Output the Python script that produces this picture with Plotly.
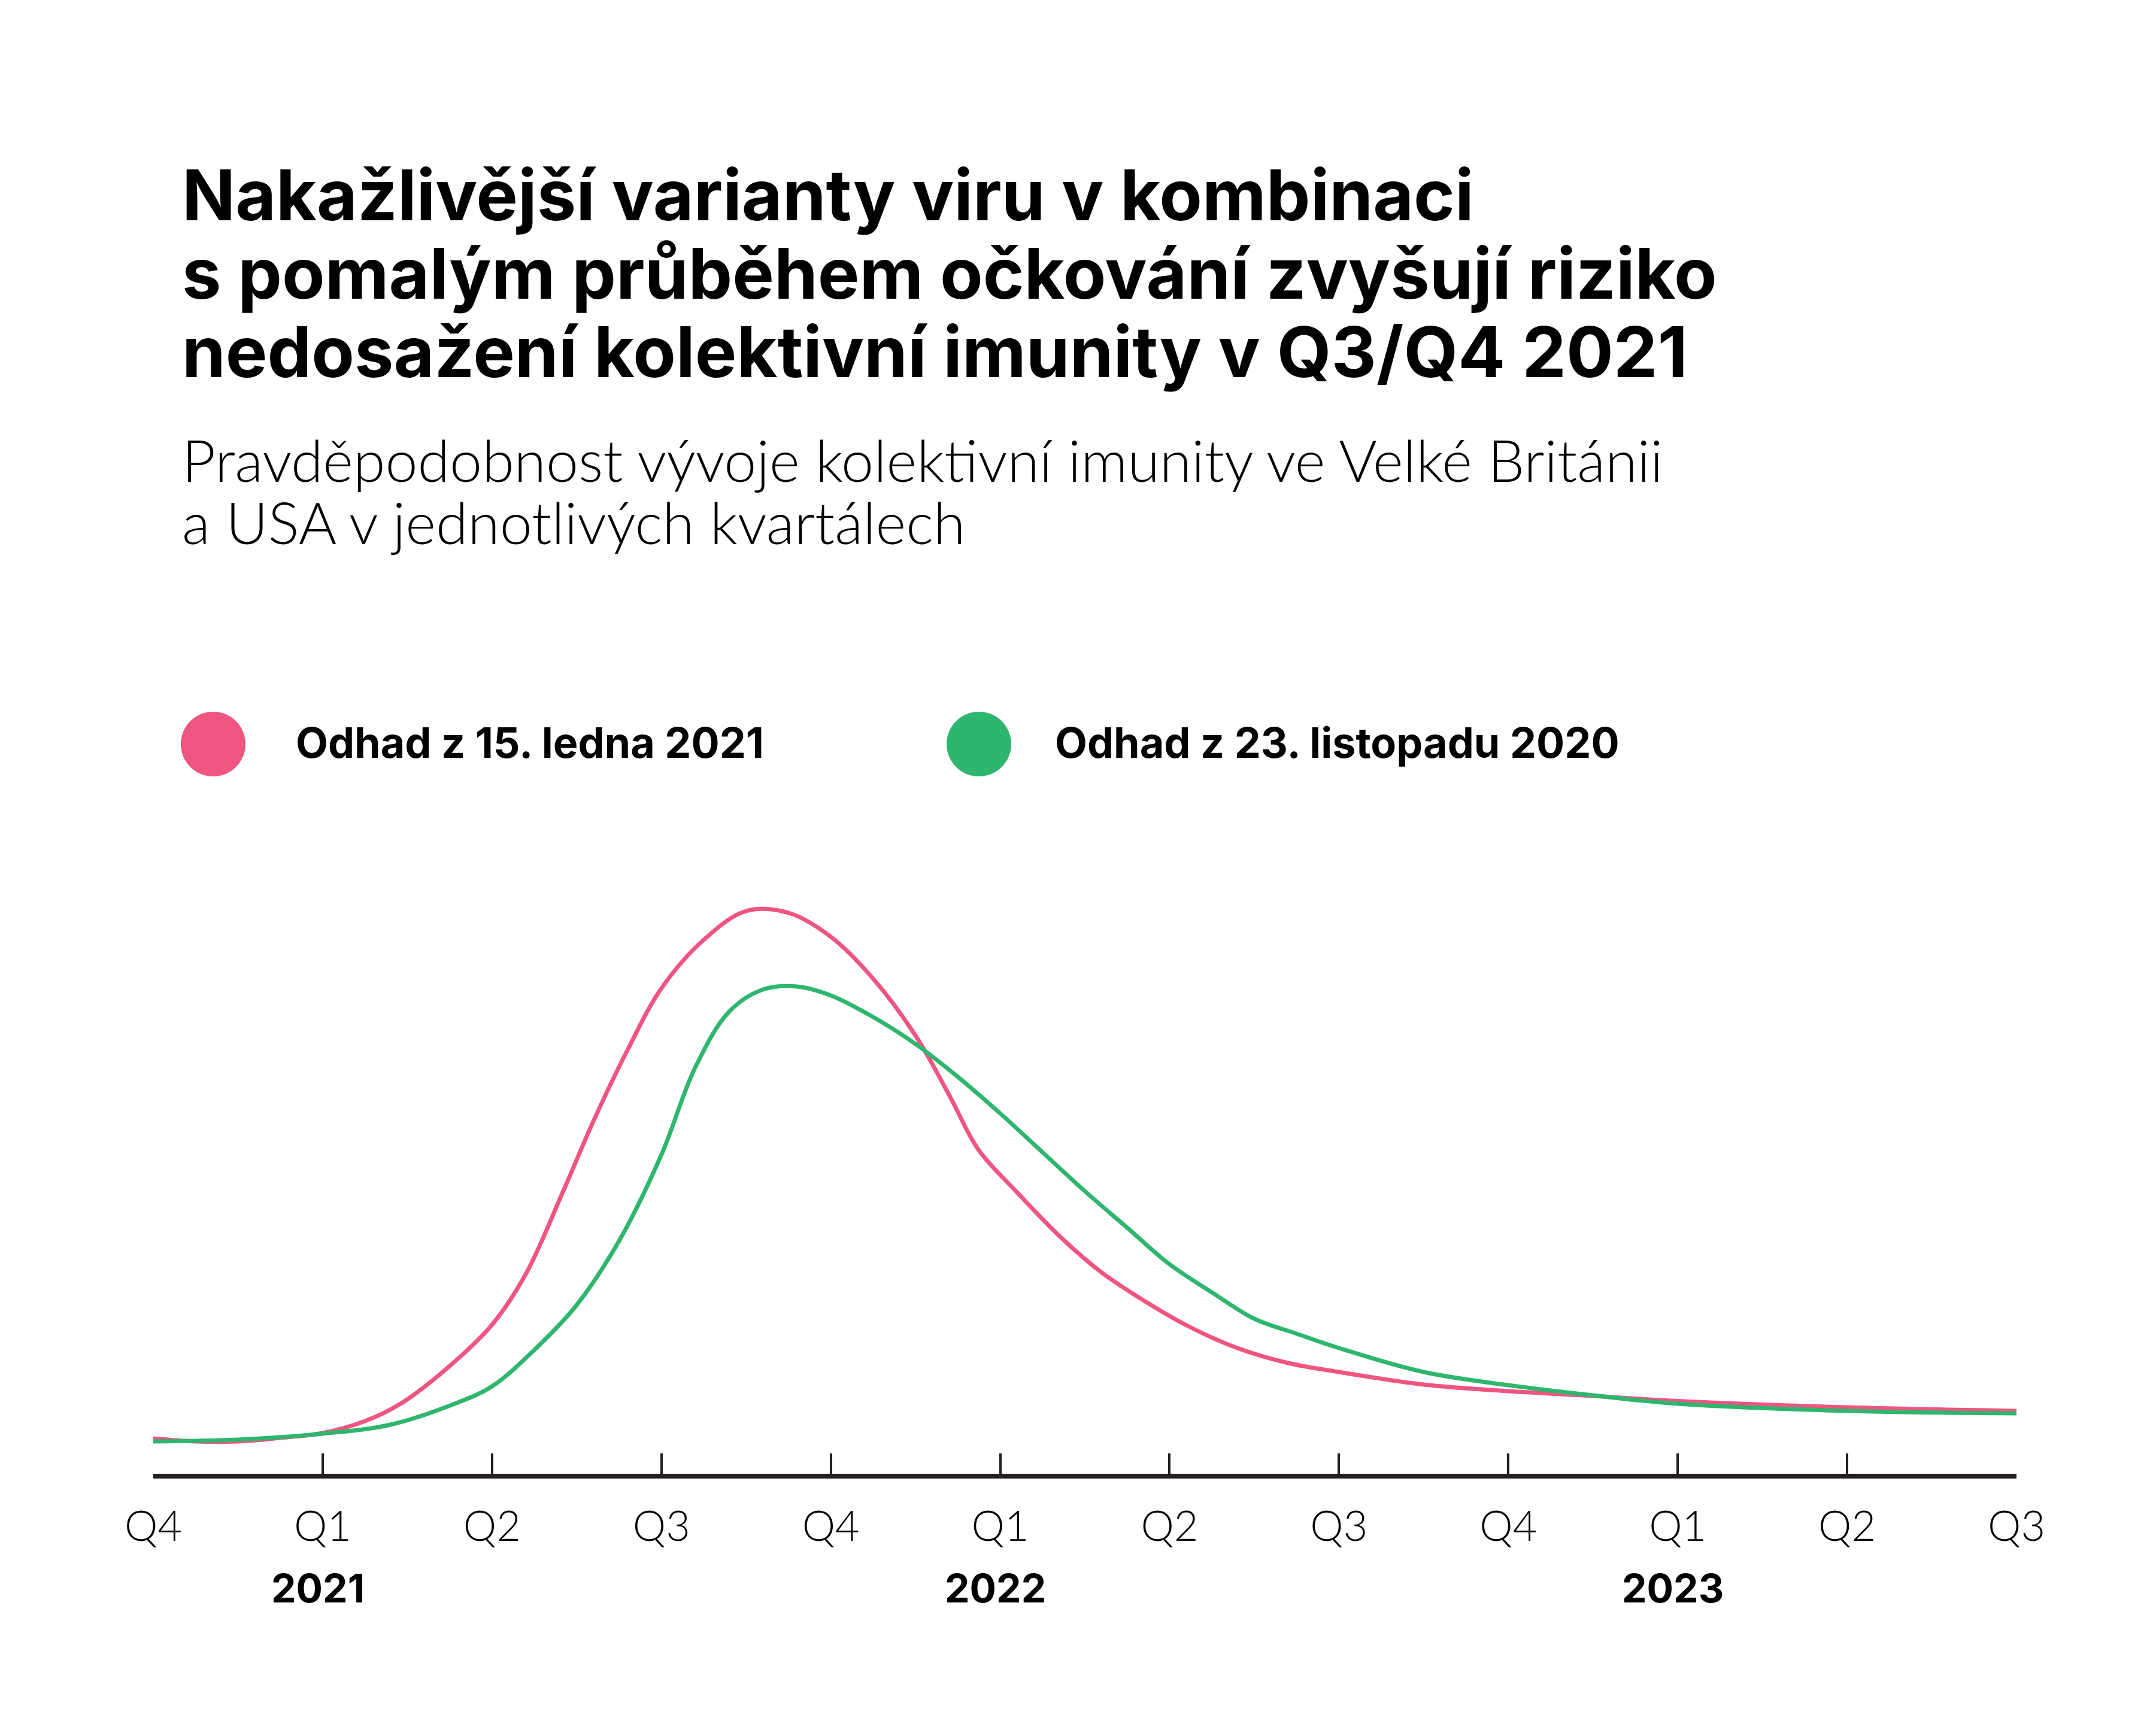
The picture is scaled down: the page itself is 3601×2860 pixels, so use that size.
import plotly.graph_objects as go

# ---- data (quarter index from Q4 2020 = 0) ----
red_q = [0, 0.25, 0.5, 0.75, 1.0, 1.25, 1.46, 1.75, 2.0, 2.2, 2.42, 2.6, 2.8, 3.0, 3.25, 3.5,
         3.75, 4.0, 4.25, 4.5, 4.7, 4.87, 5.1, 5.35, 5.6, 5.85, 6.1, 6.4, 6.7, 7.0, 7.5, 8.0,
         8.5, 9.0, 10.0, 11.0]
red_v = [5.5, 5.0, 5.0, 5.6, 6.4, 8.4, 11.3, 17.6, 24.5, 33.0, 46.8, 58.6, 70.4, 80.7, 88.8, 93.6,
         93.3, 89.3, 82.3, 72.8, 62.8, 53.8, 46.6, 39.3, 33.2, 28.5, 24.4, 20.6, 18.1, 16.6, 14.5,
         13.4, 12.6, 11.75, 10.7, 10.1]

green_q = [0, 0.5, 1.0, 1.4, 1.78, 2.0, 2.25, 2.5, 2.75, 3.0, 3.2, 3.4, 3.6, 3.8, 4.0, 4.25,
           4.5, 4.75, 5.0, 5.25, 5.5, 5.75, 6.0, 6.25, 6.5, 6.75, 7.0, 7.5, 8.0, 8.5, 9.0, 10.0,
           11.0]
green_v = [5.0, 5.3, 6.3, 7.8, 11.3, 14.2, 20.3, 27.8, 38.5, 52.9, 67.5, 76.8, 80.5, 81.0, 79.5,
           75.9, 71.4, 65.9, 59.8, 53.3, 46.8, 40.7, 34.6, 29.9, 25.5, 23.0, 20.6, 16.6, 14.4,
           12.7, 11.3, 10.1, 9.7]

tick_vals = list(range(12))
tick_text = ["Q4", "Q1", "Q2", "Q3", "Q4", "Q1", "Q2", "Q3", "Q4", "Q1", "Q2", "Q3"]
year_pos = [1, 5, 9]
year_text = ["2021", "2022", "2023"]

series_names = ["Odhad z 15. ledna 2021", "Odhad z 23. listopadu 2020"]
title_lines = ["Nakažlivější varianty viru v kombinaci",
               "s pomalým průběhem očkování zvyšují riziko",
               "nedosažení kolektivní imunity v Q3/Q4 2021"]
subtitle_lines = ["Pravděpodobnost vývoje kolektivní imunity ve Velké Británii",
                  "a USA v jednotlivých kvartálech"]

RED = "#EF5581"
GREEN = "#2FB66E"
DARK = "#231F20"

W, Hh = 3601, 2860
OFF = 8  # page body margin
L, R, T, B = 248, 241, 1392, 406
PW, PH = W - L - R, Hh - T - B


def px(x):
    return (x - OFF - L) / PW


def py(y):
    return (Hh - B - (y - OFF)) / PH


fig = go.Figure()
fig.add_trace(go.Scatter(x=red_q, y=red_v, mode="lines", name=series_names[0],
                         line=dict(color=RED, width=7, shape="spline", smoothing=1.0)))
fig.add_trace(go.Scatter(x=green_q, y=green_v, mode="lines", name=series_names[1],
                         line=dict(color=GREEN, width=7, shape="spline", smoothing=1.0)))

ann = []
title_font = dict(family="Inter", size=117, color="#000000", weight="bold")
for i, t in enumerate(title_lines):
    ann.append(dict(text=t, xref="paper", yref="paper", x=px(302), y=py(372 + 131 * i),
                    xanchor="left", yanchor="bottom", showarrow=False, font=title_font,
                    yshift=-26))
sub_font = dict(family="Lato", size=97, color="#000000", weight=300)
for i, t in enumerate(subtitle_lines):
    ann.append(dict(text=t, xref="paper", yref="paper", x=px(302), y=py(806 + 104 * i),
                    xanchor="left", yanchor="bottom", showarrow=False, font=sub_font,
                    yshift=-22))
leg_font = dict(family="Inter", size=70, color="#000000", weight="bold")
leg_x = [(356, 492), (1635, 1760)]
shapes = []
for (cx, tx), name, col in zip(leg_x, series_names, [RED, GREEN]):
    shapes.append(dict(type="circle", xref="paper", yref="paper", xsizemode="pixel",
                       ysizemode="pixel", xanchor=px(cx), yanchor=py(1243),
                       x0=-54, x1=54, y0=-54, y1=54, fillcolor=col, line=dict(width=0)))
    ann.append(dict(text=name, xref="paper", yref="paper", x=px(tx), y=py(1240),
                    xanchor="left", yanchor="middle", showarrow=False, font=leg_font))
for xp, yt in zip(year_pos, year_text):
    ann.append(dict(text=yt, x=xp, xref="x", yref="paper", y=py(2653), yanchor="middle",
                    xanchor="center", showarrow=False, xshift=-8,
                    font=dict(family="Inter", size=66, color="#000000", weight="bold")))

fig.update_layout(
    width=W, height=Hh, margin=dict(l=L, r=R, t=T, b=B),
    paper_bgcolor="white", plot_bgcolor="white", showlegend=False,
    annotations=ann, shapes=shapes,
    xaxis=dict(range=[0, 11], showgrid=False, zeroline=False, showline=True,
               linecolor=DARK, linewidth=8, ticks="inside", ticklen=34, tickwidth=4,
               tickcolor=DARK, tickvals=tick_vals, ticktext=tick_text,
               tickfont=dict(family="Lato", size=70, color="#000000", weight=300),
               ticklabelstandoff=20),
    yaxis=dict(range=[-0.4, PH / 10 - 0.4], visible=False),
)
fig.write_html("out.html")
